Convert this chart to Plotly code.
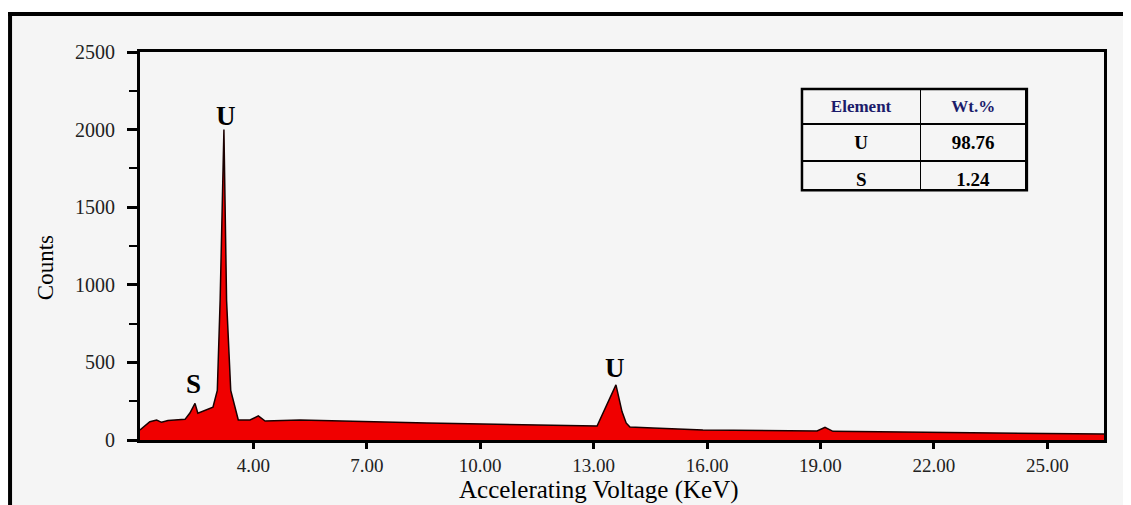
import plotly.graph_objects as go

# EDS spectrum (keV, counts)
energy_kev = [
    1.00, 1.26, 1.44, 1.57, 1.74, 2.19, 2.32, 2.455, 2.53, 2.76, 2.93, 3.045, 3.12,
    3.22, 3.29, 3.40, 3.46, 3.60, 3.91, 4.13, 4.31, 5.23, 8.59, 12.98, 13.09,
    13.59, 13.75, 13.86, 13.96, 14.57, 15.89, 18.91, 19.12, 19.33, 22.50, 26.50,
]
counts = [
    65, 118, 129, 114, 125, 133, 174, 236, 172, 194, 212, 320, 900,
    2000, 900, 320, 260, 129, 129, 155, 122, 129, 110, 90, 90,
    355, 183, 110, 84, 77, 65, 58, 82, 56, 47, 38,
]

peak_labels = ["S", "U", "U"]
peak_x = [2.41, 3.27, 13.57]
peak_y = [361, 2086, 464]

x_tickvals = [4, 7, 10, 13, 16, 19, 22, 25]
x_ticktext = ["4.00", "7.00", "10.00", "13.00", "16.00", "19.00", "22.00", "25.00"]
y_tickvals = [0, 500, 1000, 1500, 2000, 2500]

table_header = ["Element", "Wt.%"]
table_elements = ["U", "S"]
table_wt = ["98.76", "1.24"]

SERIF = "Liberation Serif, Times New Roman, serif"
BG = "#f5f5f5"

fig = go.Figure()

fig.add_trace(
    go.Scatter(
        x=energy_kev,
        y=counts,
        mode="lines",
        fill="tozeroy",
        fillcolor="#f00000",
        line=dict(color="#1a0000", width=1.5),
        showlegend=False,
        hoverinfo="skip",
    )
)

fig.add_trace(
    go.Table(
        domain=dict(x=[0.6867, 0.920], y=[0.644, 0.9046]),
        columnwidth=[119, 106],
        header=dict(
            values=[f"<b>{h}</b>" for h in table_header],
            fill_color=BG,
            line=dict(color="black", width=1.5),
            font=dict(family=SERIF, size=17, color="#1c1c6b"),
            align="center",
            height=35,
        ),
        cells=dict(
            values=[[f"<b>{v}</b>" for v in table_elements], [f"<b>{v}</b>" for v in table_wt]],
            fill_color=BG,
            line=dict(color="black", width=1.5),
            font=dict(family=SERIF, size=19, color="black"),
            align="center",
            height=32,
        ),
    )
)

for label, px, py in zip(peak_labels, peak_x, peak_y):
    fig.add_annotation(
        x=px, y=py, text=f"<b>{label}</b>", showarrow=False,
        font=dict(family=SERIF, size=27, color="black"),
    )

# axis titles
fig.add_annotation(
    xref="paper", yref="paper", x=0.476, y=-0.1285, xanchor="center", yanchor="middle",
    text="Accelerating Voltage (KeV)", showarrow=False, borderpad=0,
    font=dict(family=SERIF, size=25, color="black"),
)
fig.add_annotation(
    xref="paper", yref="paper", x=-0.0985, y=0.443, xanchor="center", yanchor="middle",
    text="Counts", textangle=-90, showarrow=False,
    font=dict(family=SERIF, size=23, color="black"),
)

# outer frame: grey panel with thick top and left edges
fig.add_shape(type="rect", xref="paper", yref="paper", x0=-0.135, x1=1.1, y0=-0.3, y1=1.098,
              fillcolor=BG, line=dict(width=0), layer="below")
fig.add_shape(type="line", xref="paper", yref="paper", x0=-0.1375, x1=1.1, y0=1.098, y1=1.098,
              line=dict(color="black", width=4))
fig.add_shape(type="line", xref="paper", yref="paper", x0=-0.1348, x1=-0.1348, y0=-0.3, y1=1.1,
              line=dict(color="black", width=4))
# thicker border round the table
fig.add_shape(type="rect", xref="paper", yref="paper", x0=0.6867, x1=0.920, y0=0.644, y1=0.9046,
              line=dict(color="black", width=2.5))

fig.update_xaxes(
    range=[1.0, 26.5],
    tickvals=x_tickvals,
    ticktext=x_ticktext,
    ticks="outside",
    ticklen=6,
    tickwidth=3,
    tickcolor="black",
    showline=True,
    linewidth=3,
    linecolor="black",
    mirror=True,
    showgrid=False,
    zeroline=False,
    tickfont=dict(family=SERIF, size=19, color="#222222"),
)
fig.update_yaxes(
    range=[0, 2500],
    tickvals=y_tickvals,
    ticks="outside",
    ticklen=10,
    tickwidth=3,
    tickcolor="black",
    ticklabelstandoff=8,
    minor=dict(dtick=250, ticks="outside", ticklen=8, tickwidth=2, tickcolor="black"),
    showline=True,
    linewidth=3,
    linecolor="black",
    mirror=True,
    showgrid=False,
    zeroline=False,
    tickfont=dict(family=SERIF, size=20, color="#222222"),
)

# the page body adds an 8px offset, so the figure is 8px smaller than the window
fig.update_layout(
    width=1123,
    height=497,
    margin=dict(l=132, r=27, t=44, b=65),
    paper_bgcolor="white",
    plot_bgcolor=BG,
)

fig.write_html("out.html")
